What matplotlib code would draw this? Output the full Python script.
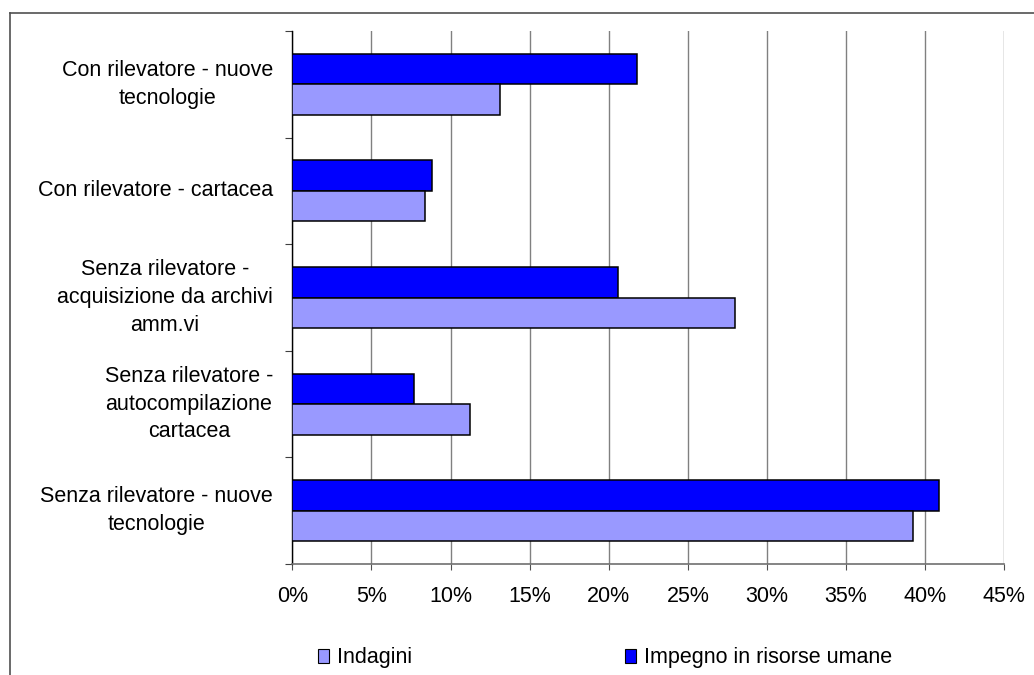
import matplotlib
matplotlib.use("Agg")
import matplotlib.pyplot as plt
from matplotlib.patches import Patch
from matplotlib.lines import Line2D
from matplotlib.transforms import blended_transform_factory
import numpy as np

categories = [
    "Con rilevatore - nuove\ntecnologie",
    "Con rilevatore - cartacea",
    "Senza rilevatore -\nacquisizione da archivi\namm.vi",
    "Senza rilevatore -\nautocompilazione\ncartacea",
    "Senza rilevatore - nuove\ntecnologie",
]
indagini = [13.1, 8.4, 28.0, 11.2, 39.2]
impegno = [21.8, 8.8, 20.6, 7.7, 40.9]
series_names = ["Indagini", "Impegno in risorse umane"]
xticks = [0, 5, 10, 15, 20, 25, 30, 35, 40, 45]
xticklabels = ["0%", "5%", "10%", "15%", "20%", "25%", "30%", "35%", "40%", "45%"]

plt.rcParams['font.family'] = ['Liberation Sans', 'DejaVu Sans']
FS = 15.5
C_IND = '#9999FF'
C_IMP = '#0000FF'

fig = plt.figure(figsize=(10.34, 6.75), dpi=100)
ax = fig.add_axes([292.3/1034, 1-564/675, (1004.3-292.3)/1034, (564-31)/675])

y = np.arange(len(categories))
h = 0.286
ax.barh(y - h/2, impegno, height=h, color=C_IMP, edgecolor='black', linewidth=1.1, zorder=3)
ax.barh(y + h/2, indagini, height=h, color=C_IND, edgecolor='black', linewidth=1.1, zorder=3)

ax.set_xlim(0, 45)
ax.set_ylim(len(categories) - 0.5, -0.5)
ax.set_xticks(xticks)
ax.set_xticklabels(xticklabels, fontsize=FS)
ax.set_yticks(np.arange(-0.5, len(categories), 1.0))
ax.set_yticklabels([])
ax.set_yticks(y, minor=True)
ax.set_yticklabels(categories, minor=True, fontsize=FS, ha='right', va='center',
                   multialignment='center', linespacing=1.42)
ax.tick_params(axis='y', which='minor', length=0, pad=0)
ax.tick_params(axis='y', which='major', length=5, color='#404040', direction='out')
ax.tick_params(axis='x', length=4.5, color='#505050', direction='out', pad=11.5)
for lab in ax.get_yticklabels(minor=True):
    lab.set_transform(blended_transform_factory(fig.transFigure, ax.transData))
    lab.set_x(273/1034)

ax.grid(axis='x', color='#808080', linewidth=1.0, zorder=0)
ax.set_axisbelow(True)
for s in ['top', 'right']:
    ax.spines[s].set_visible(False)
ax.spines['left'].set_color('black')
ax.spines['left'].set_linewidth(1.0)
ax.spines['bottom'].set_color('#707070')
ax.spines['bottom'].set_linewidth(1.2)

leg_kw = dict(loc='center left', frameon=False, fontsize=FS, handlelength=0.5,
              handleheight=0.6, handletextpad=0.4, borderpad=0, borderaxespad=0)
fig.legend([Patch(facecolor=C_IND, edgecolor='black', linewidth=0.8)], [series_names[0]],
           bbox_to_anchor=(318/1034, 1-658/675), **leg_kw)
fig.legend([Patch(facecolor=C_IMP, edgecolor='black', linewidth=0.8)], [series_names[1]],
           bbox_to_anchor=(625/1034, 1-658/675), **leg_kw)

fig.add_artist(Line2D([10/1034, 1.0], [1-12.7/675, 1-12.7/675], transform=fig.transFigure,
                      color='#505050', linewidth=1.2))
fig.add_artist(Line2D([10/1034, 10/1034], [1-12.7/675, 0.0], transform=fig.transFigure,
                      color='#505050', linewidth=1.2))

fig.savefig('out.png', dpi=100)
